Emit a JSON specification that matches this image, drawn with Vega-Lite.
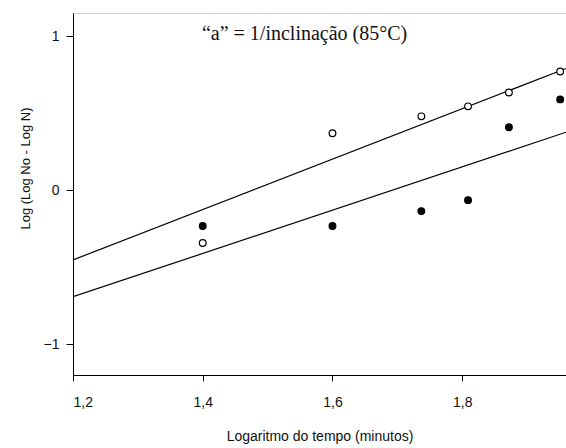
{
  "$schema": "https://vega.github.io/schema/vega-lite/v6.json",
  "width": 493,
  "height": 362,
  "autosize": {"type": "none"},
  "padding": {"left": 73, "top": 13, "right": 0, "bottom": 73},
  "background": "white",
  "config": {
    "view": {"stroke": "#d0d0d0", "strokeWidth": 1},
    "font": "Liberation Sans"
  },
  "datasets": {
    "pontos": [
      {"x": 1.4, "y": -0.343, "serie": "aberto"},
      {"x": 1.6, "y": 0.369, "serie": "aberto"},
      {"x": 1.737, "y": 0.479, "serie": "aberto"},
      {"x": 1.809, "y": 0.544, "serie": "aberto"},
      {"x": 1.872, "y": 0.634, "serie": "aberto"},
      {"x": 1.951, "y": 0.77, "serie": "aberto"},
      {"x": 1.4, "y": -0.233, "serie": "cheio"},
      {"x": 1.6, "y": -0.233, "serie": "cheio"},
      {"x": 1.737, "y": -0.136, "serie": "cheio"},
      {"x": 1.809, "y": -0.065, "serie": "cheio"},
      {"x": 1.872, "y": 0.408, "serie": "cheio"},
      {"x": 1.951, "y": 0.589, "serie": "cheio"}
    ],
    "retas": [
      {"x": 1.2, "y": -0.453, "serie": "aberto"},
      {"x": 1.96, "y": 0.79, "serie": "aberto"},
      {"x": 1.2, "y": -0.692, "serie": "cheio"},
      {"x": 1.96, "y": 0.376, "serie": "cheio"}
    ],
    "rotulo": [
      {"x": 1.557, "y": 1.016, "texto": "“a” = 1/inclinação (85°C)"}
    ]
  },
  "layer": [
    {
      "data": {"name": "retas"},
      "mark": {"type": "line", "color": "black", "strokeWidth": 1.2, "clip": true},
      "encoding": {
        "x": {
          "field": "x", "type": "quantitative",
          "scale": {"domain": [1.2, 1.96], "nice": false, "zero": false},
          "axis": {
            "values": [1.2, 1.4, 1.6, 1.8],
            "labelExpr": "replace(format(datum.value, '.1f'), '.', ',')",
            "grid": false, "domainColor": "black", "tickColor": "black",
            "tickSize": 6, "labelPadding": 14, "labelFontSize": 14,
            "labelColor": "#111", "labelFont": "Liberation Sans",
            "title": "Logaritmo do tempo (minutos)",
            "titleFontSize": 14, "titleFontWeight": "normal", "titleColor": "#111",
            "titlePadding": 20, "titleFont": "Liberation Sans"
          }
        },
        "y": {
          "field": "y", "type": "quantitative",
          "scale": {"domain": [-1.2, 1.15], "nice": false, "zero": false},
          "axis": {
            "values": [-1, 0, 1],
            "format": "d",
            "grid": false, "domainColor": "black", "tickColor": "black",
            "tickSize": 7, "labelPadding": 7, "labelFontSize": 14,
            "labelColor": "#111", "labelFont": "Liberation Sans",
            "title": "Log (Log No - Log N)",
            "titleFontSize": 13, "titleFontWeight": "normal", "titleColor": "#111",
            "titleY": 155, "titleX": -48, "titleBaseline": "middle", "titleAngle": -90,
            "titleFont": "Liberation Sans"
          }
        },
        "detail": {"field": "serie", "type": "nominal"}
      }
    },
    {
      "data": {"name": "pontos"},
      "mark": {"type": "point", "shape": "circle", "size": 45, "strokeWidth": 1.2, "opacity": 1, "filled": false},
      "encoding": {
        "x": {"field": "x", "type": "quantitative"},
        "y": {"field": "y", "type": "quantitative"},
        "fill": {
          "field": "serie", "type": "nominal",
          "scale": {"domain": ["aberto", "cheio"], "range": ["white", "black"]},
          "legend": null
        },
        "stroke": {"value": "black"},
        "fillOpacity": {"value": 1},
        "strokeOpacity": {"value": 1}
      }
    },
    {
      "data": {"name": "rotulo"},
      "mark": {"type": "text", "font": "Liberation Serif", "fontSize": 20, "align": "center", "baseline": "middle", "color": "#111"},
      "encoding": {
        "x": {"field": "x", "type": "quantitative"},
        "y": {"field": "y", "type": "quantitative"},
        "text": {"field": "texto"}
      }
    }
  ]
}
